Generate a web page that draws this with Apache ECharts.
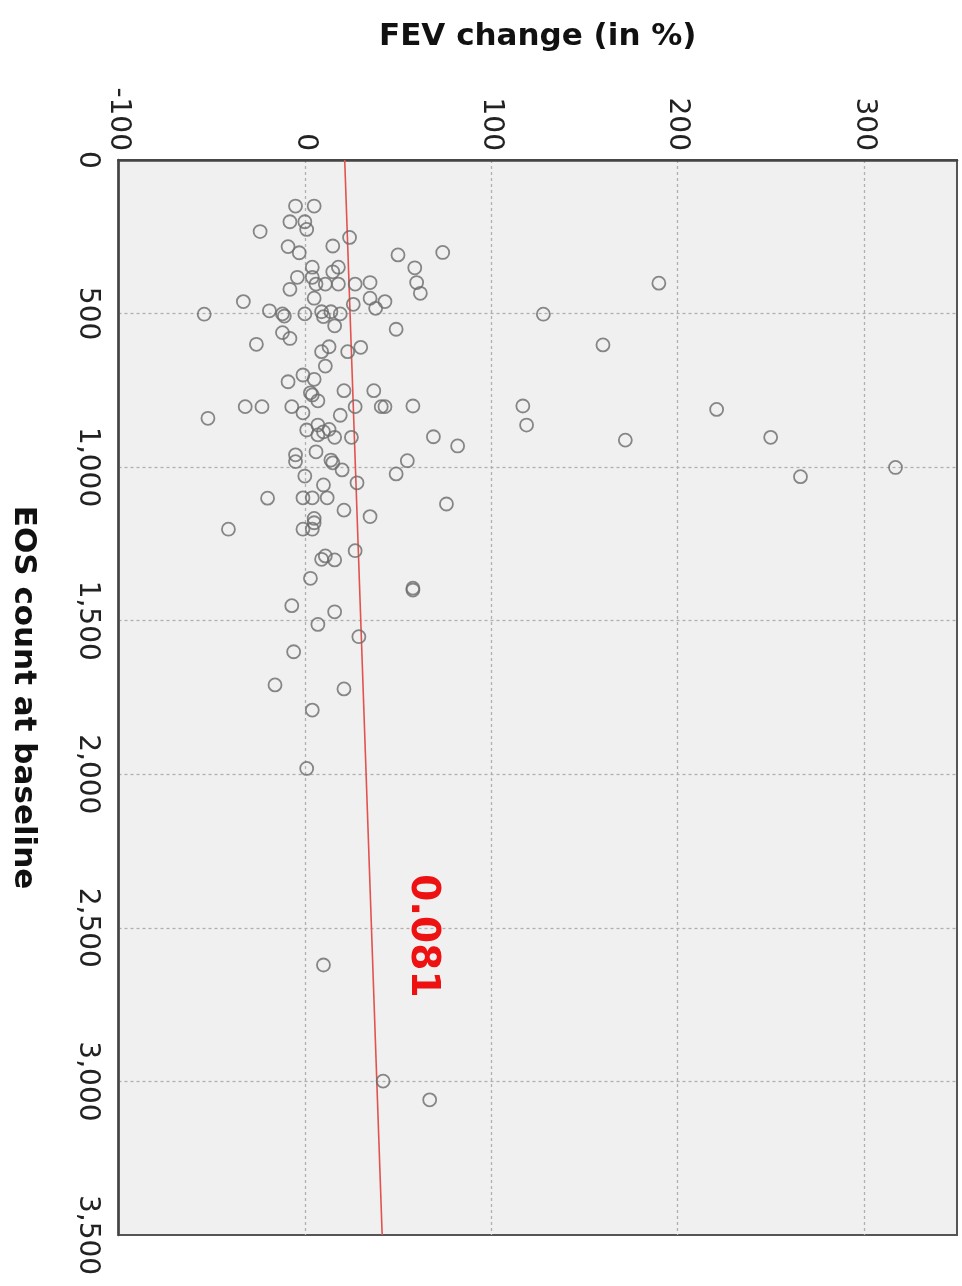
<!DOCTYPE html>
<html>
<head>
<meta charset="utf-8">
<script src="https://cdn.jsdelivr.net/npm/echarts@6/dist/echarts.min.js"></script>
<style>
  html, body { margin: 0; padding: 0; background: #ffffff; }
  #chart { width: 962px; height: 1286px; }
</style>
</head>
<body>
<div id="chart"></div>
<script>
// EOS count at baseline (vertical axis in the picture)
const eosCount = [
  150,150,201,201,226,233,252,282,280,302,
  309,301,351,349,349,382,382,364,404,404,
  404,404,399,399,434,421,450,450,461,470,
  483,461,502,491,501,501,494,494,501,510,
  508,540,562,581,551,600,624,608,624,610,
  671,722,700,714,758,765,784,751,751,803,
  803,803,823,803,803,803,801,841,831,879,
  863,885,877,903,895,903,901,931,950,960,
  982,977,986,1009,979,1022,1029,1051,1058,1101,
  1100,1100,1100,1120,1140,1161,1167,
  1202,1202,1202,1181,1272,1300,1289,1302,1362,1394,
  1400,1451,1471,1512,1552,1601,1709,1722,1791,1981,
  2621,2999,3060,
  502,401,602,801,863,912,812,903,1031,1001
];
// FEV change (in %) (horizontal axis in the picture)
const fevChange = [
  -5,5,-8,0,1,-24,24,-9,15,-3,
  50,74,59,4,18,-4,4,15,6,11,
  18,27,35,60,62,-8,5,35,43,26,
  38,-33,-54,-19,-12,0,9,14,19,10,
  -11,16,-12,-8,49,-26,9,13,23,30,
  11,-9,-1,5,3,4,7,21,37,-32,
  -23,-7,-1,27,41,43,58,-52,19,1,
  7,10,13,16,7,25,69,82,6,-5,
  -5,14,15,20,55,49,0,28,10,-20,
  -1,4,12,76,21,35,5,
  -41,-1,4,5,27,9,11,16,3,58,
  58,-7,16,7,29,-6,-16,21,4,1,
  10,42,67,
  128,190,160,117,119,172,221,250,266,317
];
// Fitted regression line endpoints
const fitEos = [0, 3500];
const fitFev = [21.4, 41.5];
// Annotation (correlation value) and its location
const annotationText = '0.081';
const annotationFev = 63;
const annotationEos = 2526;
// Axis settings
const fevTicks = [-100, 0, 100, 200, 300];
const eosTicks = [0, 500, 1000, 1500, 2000, 2500, 3000, 3500];

const points = eosCount.map((e, i) => [fevChange[i], e]);
const fitLine = fitEos.map((e, i) => [fitFev[i], e]);

const chart = echarts.init(document.getElementById('chart'), null, { renderer: 'canvas' });
const FONT = 'DejaVu Sans';

chart.setOption({
  animation: false,
  backgroundColor: '#ffffff',
  grid: {
    left: 117, right: 5, top: 160, bottom: 51,
    show: true,
    backgroundColor: '#f0f0f0',
    borderColor: '#555',
    borderWidth: 2
  },
  xAxis: {
    type: 'value',
    position: 'top',
    min: fevTicks[0],
    max: 350,
    interval: 100,
    name: 'FEV change (in %)',
    nameLocation: 'middle',
    nameGap: 123,
    nameTextStyle: {
      fontFamily: FONT, fontWeight: 'bold', fontSize: 31, color: '#111',
      verticalAlign: 'middle', align: 'center'
    },
    axisLine: { show: true, lineStyle: { color: '#444', width: 2.5 } },
    axisTick: { show: false },
    axisLabel: {
      show: true,
      rotate: -90,
      align: 'right',
      verticalAlign: 'middle',
      margin: 9,
      fontFamily: FONT,
      fontSize: 28,
      color: '#222',
      showMinLabel: true,
      showMaxLabel: false,
      formatter: v => (fevTicks.indexOf(v) >= 0 ? String(v) : '')
    },
    splitLine: {
      show: true, showMinLine: false, showMaxLine: false,
      lineStyle: { color: '#b0b0b0', width: 1.3, type: [3, 3] }
    }
  },
  yAxis: {
    type: 'value',
    position: 'left',
    inverse: true,
    min: eosTicks[0],
    max: eosTicks[eosTicks.length - 1],
    interval: 500,
    name: 'EOS count at baseline',
    nameLocation: 'middle',
    nameRotate: -90,
    nameGap: 95,
    nameTextStyle: {
      fontFamily: FONT, fontWeight: 'bold', fontSize: 31, color: '#111',
      verticalAlign: 'middle', align: 'center'
    },
    axisLine: { show: true, onZero: false, lineStyle: { color: '#444', width: 2.5 } },
    axisTick: { show: false },
    axisLabel: {
      show: true,
      rotate: -90,
      align: 'center',
      verticalAlign: 'top',
      margin: 17,
      fontFamily: FONT,
      fontSize: 28,
      color: '#222',
      showMinLabel: true,
      showMaxLabel: true,
      formatter: v => v.toLocaleString('en-US')
    },
    splitLine: {
      show: true, showMinLine: false, showMaxLine: false,
      lineStyle: { color: '#b0b0b0', width: 1.3, type: [3, 3] }
    }
  },
  series: [
    {
      type: 'scatter',
      data: points,
      symbol: 'circle',
      symbolSize: 13,
      itemStyle: { color: 'rgba(0,0,0,0)', borderColor: '#6c6c6c', borderWidth: 1.8 },
      z: 3
    },
    {
      type: 'line',
      data: fitLine,
      symbol: 'none',
      lineStyle: { color: '#e2534f', width: 1.6 },
      z: 2,
      markPoint: {
        symbol: 'circle',
        symbolSize: 1,
        itemStyle: { color: 'rgba(0,0,0,0)' },
        label: {
          show: true,
          position: 'inside',
          formatter: annotationText,
          rotate: -90,
          align: 'center',
          verticalAlign: 'middle',
          fontFamily: FONT,
          fontWeight: 'bold',
          fontSize: 39,
          color: '#ee1111'
        },
        data: [{ coord: [annotationFev, annotationEos], value: annotationText }]
      }
    }
  ]
});
</script>
</body>
</html>
